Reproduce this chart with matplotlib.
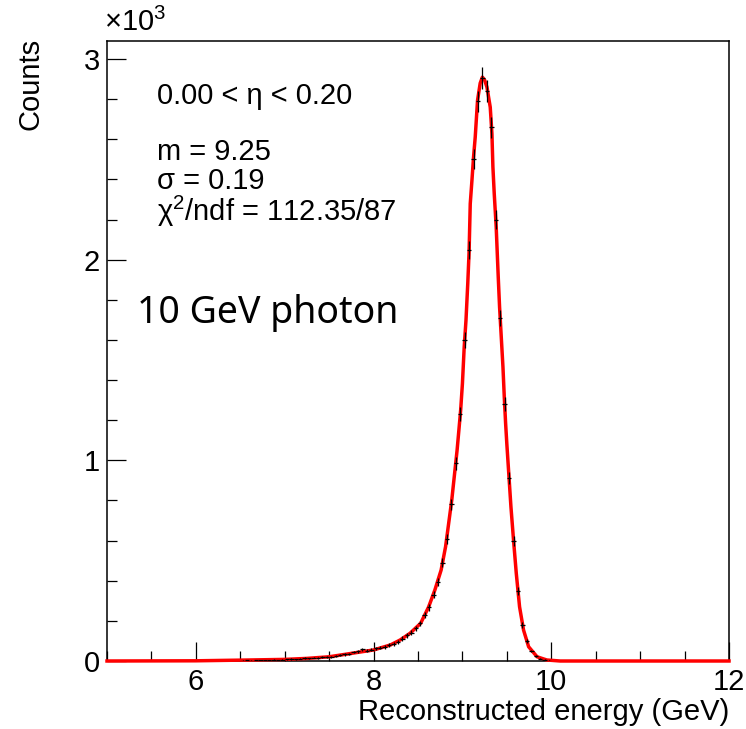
import numpy as np
import matplotlib
matplotlib.use("Agg")
import matplotlib.pyplot as plt
from matplotlib.ticker import MultipleLocator, FuncFormatter

plt.rcParams["font.family"] = ["Liberation Sans", "DejaVu Sans"]
plt.rcParams["mathtext.fontset"] = "custom"
plt.rcParams["mathtext.rm"] = "Liberation Sans"
plt.rcParams["mathtext.it"] = "Liberation Sans:italic"

# histogram bins (centres, GeV) and counts
bin_centers = [6.525, 6.575, 6.625, 6.675, 6.725, 6.775, 6.825, 6.875, 6.925, 6.975,
               7.025, 7.075, 7.125, 7.175, 7.225, 7.275, 7.325, 7.375, 7.425, 7.475,
               7.525, 7.575, 7.625, 7.675, 7.725, 7.775, 7.825, 7.875, 7.925, 7.975,
               8.025, 8.075, 8.125, 8.175, 8.225, 8.275, 8.325, 8.375, 8.425, 8.475,
               8.525, 8.575, 8.625, 8.675, 8.725, 8.775, 8.825, 8.875, 8.925, 8.975,
               9.025, 9.075, 9.125, 9.175, 9.225, 9.275, 9.325, 9.375, 9.425, 9.475,
               9.525, 9.575, 9.625, 9.675, 9.725, 9.775, 9.825, 9.875, 9.925, 9.975]
counts = [2, 3, 2, 4, 3, 5, 4, 6, 5, 7,
          8, 10, 9, 12, 14, 13, 17, 16, 20, 22,
          21, 27, 30, 33, 36, 45, 48, 58, 52, 57,
          64, 66, 70, 80, 85, 97, 112, 128, 142, 163,
          188, 228, 268, 330, 395, 490, 610, 780, 985, 1230,
          1600, 2050, 2500, 2790, 2905, 2840, 2660, 2200, 1710, 1280,
          910, 600, 350, 180, 100, 50, 25, 12, 6, 2]

# fitted function, sampled off the red curve
fit_x = [5.0, 6.0, 6.6, 7.0, 7.25, 7.5, 7.75, 8.0, 8.19, 8.30, 8.41, 8.53, 8.62,
         8.69, 8.76, 8.81, 8.84, 8.88, 8.92, 8.94, 8.96, 8.98, 9.00, 9.02, 9.04,
         9.06, 9.075, 9.088, 9.107, 9.125, 9.144, 9.17, 9.20, 9.225, 9.25, 9.276,
         9.313, 9.332, 9.343, 9.358, 9.38, 9.395, 9.403, 9.418, 9.437, 9.456,
         9.471, 9.486, 9.50, 9.519, 9.546, 9.575, 9.606, 9.643, 9.688, 9.745,
         9.84, 9.95, 10.1, 12.0]
fit_y = [0, 1, 5, 8, 13, 21, 38, 55, 80, 105, 138, 188, 270,
         354, 453, 569, 669, 802, 968, 1051, 1150, 1250, 1383, 1565, 1698,
         1881, 2040, 2279, 2395, 2511, 2611, 2794, 2880, 2910, 2895, 2860,
         2760, 2628, 2462, 2329, 2163, 2000, 1914, 1764, 1615, 1466,
         1316, 1184, 1080, 951, 768, 603, 437, 270, 154, 71,
         21, 5, 0, 0]

W, H = 746, 729
fig = plt.figure(figsize=(W / 100, H / 100), dpi=100)
ax = fig.add_axes([107 / W, 1 - 661 / H, (729 - 107) / W, (661 - 41) / H])

ax.plot(fit_x, fit_y, color="#ff0000", lw=2.5, zorder=3, clip_on=False)
ax.errorbar(bin_centers, counts, xerr=0.025, yerr=np.sqrt(counts), fmt="none",
            ecolor="black", elinewidth=0.9, capsize=0, zorder=4)

ax.set_xlim(5, 12)
ax.set_ylim(0, 3090)
ax.xaxis.set_major_locator(MultipleLocator(2))
ax.xaxis.set_minor_locator(MultipleLocator(0.5))
ax.yaxis.set_major_locator(MultipleLocator(1000))
ax.yaxis.set_minor_locator(MultipleLocator(200))
ax.yaxis.set_major_formatter(FuncFormatter(lambda v, p: f"{v / 1000:.0f}"))
ax.tick_params(which="both", direction="in", top=False, right=False,
               labelsize=21, width=0.9, pad=5)
ax.tick_params(which="major", length=14)
ax.tick_params(which="minor", length=7.5)
for s in ax.spines.values():
    s.set_linewidth(1.1)

fig.text(104 / W, 1 - 22 / H, "×10$^{3}$", fontsize=21, va="center", ha="left")
fig.text(30 / W, 1 - 38 / H, "Counts", fontsize=21, rotation=90, ha="center", va="top")
fig.text(729 / W, 1 - 712 / H, "Reconstructed energy (GeV)", fontsize=21,
         ha="right", va="center")

fig.text(157 / W, 1 - 96 / H, "0.00 < η < 0.20", fontsize=21, va="center")
fig.text(157 / W, 1 - 152 / H, "m = 9.25", fontsize=21, va="center")
fig.text(157 / W, 1 - 181 / H, "σ = 0.19", fontsize=21, va="center")
fig.text(157 / W, 1 - 211 / H, r"χ$^{2}$/ndf = 112.35/87", fontsize=21, va="center")
fig.text(137 / W, 1 - 313 / H, "10 GeV photon", fontsize=27, va="center",
         family=["Noto Sans", "DejaVu Sans"])

fig.savefig("out.png", dpi=100)
